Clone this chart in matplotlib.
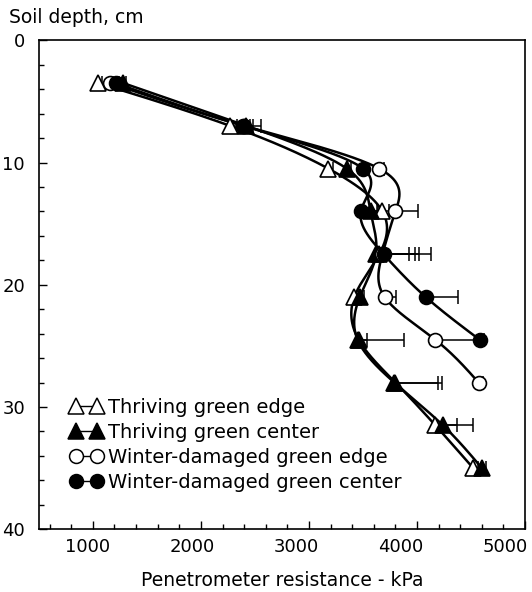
import matplotlib.pyplot as plt
import numpy as np
from matplotlib.lines import Line2D
from matplotlib.ticker import MultipleLocator
from matplotlib.transforms import ScaledTranslation

plt.rcParams['font.family'] = ['DejaVu Sans']

depth_tri = [3.5, 7, 10.5, 14, 17.5, 21, 24.5, 28, 31.5, 35]
depth_we = [3.5, 7, 10.5, 14, 17.5, 21, 24.5, 28]
depth_wc = [3.5, 7, 10.5, 14, 17.5, 21, 24.5]

thriving_edge = [1050, 2270, 3180, 3680, 3650, 3420, 3460, 3800, 4170, 4520]
thriving_center = [1280, 2420, 3350, 3570, 3620, 3470, 3450, 3790, 4240, 4600]
winter_edge = [1160, 2400, 3650, 3800, 3680, 3700, 4170, 4570]
winter_center = [1210, 2390, 3500, 3480, 3690, 4080, 4580]

err_te = [30, 60, 40, 60, 480, 40, 80, 430, 200, 40]
err_tc = [30, 140, 40, 60, 310, 40, 430, 400, 280, 40]
err_we = [30, 80, 40, 210, 340, 110, 400, 40]
err_wc = [30, 60, 40, 160, 290, 300, 40]

labels = ['Thriving green edge', 'Thriving green center',
          'Winter-damaged green edge', 'Winter-damaged green center']
xticks = [1000, 2000, 3000, 4000, 5000]
xtick_labels = ['1000', '2000', '3000', '4000', '5000']


def natural_spline(t, v, n=60):
    # natural cubic spline of v(t), only for drawing the smooth connecting line
    t = np.asarray(t, float)
    v = np.asarray(v, float)
    k = len(t)
    h = np.diff(t)
    A = np.zeros((k, k))
    b = np.zeros(k)
    A[0, 0] = A[-1, -1] = 1
    for i in range(1, k - 1):
        A[i, i - 1] = h[i - 1]
        A[i, i] = 2 * (h[i - 1] + h[i])
        A[i, i + 1] = h[i]
        b[i] = 6 * ((v[i + 1] - v[i]) / h[i] - (v[i] - v[i - 1]) / h[i - 1])
    m = np.linalg.solve(A, b)
    ts, vs = [], []
    for i in range(k - 1):
        s = np.linspace(t[i], t[i + 1], n)
        a = (t[i + 1] - s) / h[i]
        c = (s - t[i]) / h[i]
        y = (a * v[i] + c * v[i + 1]
             + ((a ** 3 - a) * m[i] + (c ** 3 - c) * m[i + 1]) * h[i] ** 2 / 6)
        ts.append(s)
        vs.append(y)
    return np.concatenate(ts), np.concatenate(vs)


fig = plt.figure(figsize=(5.32, 5.92), dpi=100)
ax = fig.add_axes([0.073, 0.106, 0.914, 0.826])

series = [
    (depth_tri, thriving_edge, err_te, '^', 'white', 11),
    (depth_tri, thriving_center, err_tc, '^', 'black', 11),
    (depth_we, winter_edge, err_we, 'o', 'white', 10),
    (depth_wc, winter_center, err_wc, 'o', 'black', 10),
]

for d, x, e, mk, fc, ms in series:
    ds, xs = natural_spline(d, x)
    ax.plot(xs, ds, color='black', lw=1.8, zorder=2)
    ax.errorbar(x, d, xerr=[np.zeros(len(e)), e], fmt='none', ecolor='black',
                elinewidth=1.1, capsize=5, capthick=1.1, zorder=1)

for d, x, e, mk, fc, ms in series:
    ax.plot(x, d, linestyle='none', marker=mk, markersize=ms,
            markerfacecolor=fc, markeredgecolor='black', markeredgewidth=1.2,
            zorder=3)

handles = [Line2D([], [], color='black', lw=1.0, marker=mk, markersize=ms,
                  markerfacecolor=fc, markeredgecolor='black', markeredgewidth=1.1)
           for d, x, e, mk, fc, ms in series]
ax.legend(handles, labels, loc='lower left', numpoints=2, handlelength=1.65,
          handletextpad=0.3, labelspacing=0.3, frameon=False, fontsize=14,
          borderaxespad=0, borderpad=0.3, bbox_to_anchor=(0.053, 0.065))

ax.set_xlim(500, 5000)
ax.set_ylim(40, 0)
ax.set_xticks(xticks)
ax.set_xticklabels(xtick_labels)
ax.xaxis.set_minor_locator(MultipleLocator(200))
ax.yaxis.set_major_locator(MultipleLocator(10))
ax.yaxis.set_minor_locator(MultipleLocator(2))
ax.tick_params(which='both', direction='in', top=False, right=False,
               labelsize=13, width=1.0)
ax.tick_params(which='major', length=6)
ax.tick_params(which='minor', length=3.5)
ax.tick_params(axis='y', pad=10)
ax.tick_params(axis='x', pad=6)
for s in ax.spines.values():
    s.set_linewidth(1.2)

# tick labels sit a little left of their ticks in the original
for i, lab in enumerate(ax.get_xticklabels()):
    dx = -(5 + 3.75 * i) / 100
    lab.set_transform(lab.get_transform() + ScaledTranslation(dx, 0, fig.dpi_scale_trans))

ax.set_xlabel('Penetrometer resistance - kPa', fontsize=13.5, labelpad=11)
fig.text(0.017, 0.97, 'Soil depth, cm', fontsize=13.5, ha='left', va='center')

fig.savefig('out.png', dpi=100)
